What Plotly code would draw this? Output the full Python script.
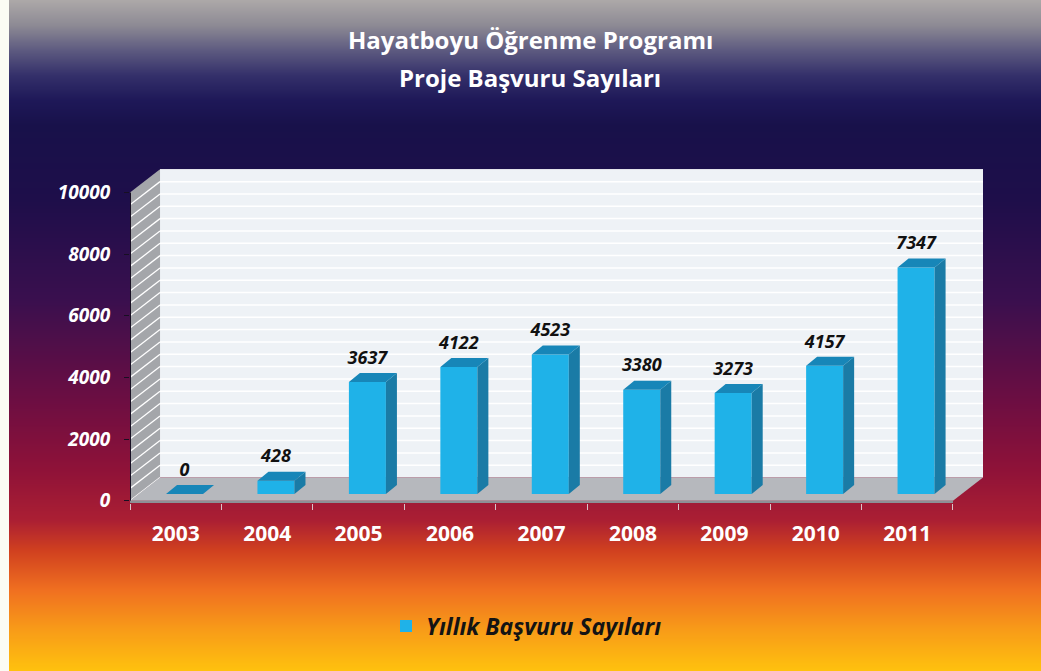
import plotly.graph_objects as go
import numpy as np

years = ["2003", "2004", "2005", "2006", "2007", "2008", "2009", "2010", "2011"]
values = [0, 428, 3637, 4122, 4523, 3380, 3273, 4157, 7347]
y_ticks = [0, 2000, 4000, 6000, 8000, 10000]
y_tick_text = ["0", "2000", "4000", "6000", "8000", "10000"]
series_name = "Yıllık Başvuru Sayıları"
title_lines = ["Hayatboyu Öğrenme Programı", "Proje Başvuru Sayıları"]

W, H = 1041, 671
FONT = "Open Sans"
X0, X1 = 130.0, 983.0      # plot area, px
Y_TOP, Y_BOT = 169.3, 503.0
PX_X = 91.4                # px per category
PX_Y = 0.0308              # px per value unit
WALL_DX = 30 / PX_X
WALL_DY = 750
BAR_OFF = 8.8 / PX_X
BAR_W = 37 / PX_X
BAR_BASE = 217
BAR_DX = 11 / PX_X
BAR_DY = 9 / PX_Y
LABEL_UP = 740
FLOOR_EDGE = -(2.3 / PX_Y)

grad_y = [0, 25, 50, 75, 100, 125, 200, 300, 400, 470, 520, 550, 590, 630, 671]
grad_c = ["#aca8a8", "#8d8a94", "#5d5a80", "#34306a", "#1e1858", "#18114a", "#1e0e4a",
          "#3a0f4e", "#6c0e42", "#8f1238", "#ab1f33", "#d0401f", "#f07020", "#f89c18", "#ffc20e"]
colorscale = [[s / H, c] for s, c in zip(grad_y, grad_c)]
rows = np.arange(0, H + 1)

n = len(years)
xl, xr = -0.5, n - 0.5
xc = [i + BAR_OFF for i in range(n)]

fig = go.Figure()
fig.add_trace(go.Heatmap(z=[[r, r] for r in rows], x=[0, 1], y=rows, colorscale=colorscale,
                         zmin=0, zmax=H, showscale=False, hoverinfo="skip", xaxis="x", yaxis="y"))

fig.add_trace(go.Bar(x=xc, y=values, base=BAR_BASE, width=BAR_W, name=series_name,
                     marker=dict(color="#1fb2e8", line=dict(width=0)), xaxis="x2", yaxis="y2",
                     showlegend=True))

side_x, side_y, top_x, top_y = [], [], [], []
for c, v in zip(xc, values):
    r, l, lo, hi = c + BAR_W / 2, c - BAR_W / 2, BAR_BASE, BAR_BASE + v
    side_x += [r, r + BAR_DX, r + BAR_DX, r, r, None]
    side_y += [lo, lo + BAR_DY, hi + BAR_DY, hi, lo, None]
    top_x += [l, r, r + BAR_DX, l + BAR_DX, l, None]
    top_y += [hi, hi, hi + BAR_DY, hi + BAR_DY, hi, None]

fig.add_trace(go.Scatter(x=side_x, y=side_y, mode="lines", fill="toself", fillcolor="#1a7ba6",
                         line=dict(width=0, color="#1a7ba6"), hoverinfo="skip", showlegend=False,
                         xaxis="x2", yaxis="y2"))
fig.add_trace(go.Scatter(x=top_x, y=top_y, mode="lines", fill="toself", fillcolor="#1786b8",
                         line=dict(width=0, color="#1786b8"), hoverinfo="skip", showlegend=False,
                         xaxis="x2", yaxis="y2"))
fig.add_trace(go.Scatter(x=xc, y=[v + BAR_BASE + LABEL_UP for v in values], mode="text",
                         text=[str(v) for v in values], textposition="middle center",
                         textfont=dict(family=FONT, size=18, color="#111111", weight=700, style="italic"),
                         hoverinfo="skip", showlegend=False, xaxis="x2", yaxis="y2"))


def poly(pts, fill):
    d = "M" + " L".join(f"{x},{y}" for x, y in pts) + " Z"
    return dict(type="path", path=d, xref="x2", yref="y2", layer="below",
                fillcolor=fill, line=dict(width=0))


def seg(x0, y0, x1, y1, color, width):
    return dict(type="line", x0=x0, y0=y0, x1=x1, y1=y1, xref="x2", yref="y2", layer="below",
                line=dict(color=color, width=width))


shapes = []
top = y_ticks[-1]
shapes.append(poly([(xl + WALL_DX, WALL_DY), (xr + WALL_DX, WALL_DY),
                    (xr + WALL_DX, top + WALL_DY), (xl + WALL_DX, top + WALL_DY)], "#eef2f6"))
shapes.append(poly([(xl, 0), (xl + WALL_DX, WALL_DY), (xl + WALL_DX, top + WALL_DY), (xl, top)], "#a4a6aa"))
for k in range(0, 26):
    v = 400 * k
    if k > 0:
        shapes.append(seg(xl + WALL_DX, v + WALL_DY, xr + WALL_DX, v + WALL_DY, "#ffffff", 1.5))
    if k < 25:
        shapes.append(seg(xl, v, xl + WALL_DX, v + WALL_DY, "#ffffff", 1.3))
shapes.append(poly([(xl, 0), (xr, 0), (xr + WALL_DX, WALL_DY), (xl + WALL_DX, WALL_DY)], "#b6b8bd"))
shapes.append(poly([(xl, FLOOR_EDGE), (xr, FLOOR_EDGE), (xr, 0), (xl, 0)], "#8e8f95"))
shapes.append(seg(xl, 0, xl, top, "#170f22", 2))

annotations = [
    dict(text=title_lines[0], x=530 / W, y=1 - 40 / H, xref="paper", yref="paper", showarrow=False,
         font=dict(family=FONT, size=24, color="#ffffff", weight=700), xanchor="center", yanchor="middle"),
    dict(text=title_lines[1], x=530 / W, y=1 - 78 / H, xref="paper", yref="paper", showarrow=False,
         font=dict(family=FONT, size=24, color="#ffffff", weight=700), xanchor="center", yanchor="middle"),
]

fig.update_layout(
    width=W, height=H, margin=dict(l=0, r=0, t=0, b=0, pad=0, autoexpand=False),
    paper_bgcolor="#fbfcf4", plot_bgcolor="rgba(0,0,0,0)", barmode="overlay",
    shapes=shapes, annotations=annotations,
    xaxis=dict(domain=[9 / W, 1], range=[0, 1], visible=False, fixedrange=True),
    yaxis=dict(domain=[0, 1], range=[H, 0], visible=False, fixedrange=True),
    xaxis2=dict(domain=[X0 / W, X1 / W], range=[xl, xr + WALL_DX], anchor="y2",
                tickmode="array", tickvals=list(range(n)), ticktext=years, ticks="",
                ticklabelstandoff=16, showgrid=False, zeroline=False, showline=False,
                tickfont=dict(family=FONT, size=21, color="#ffffff", weight=700),
                minor=dict(tickmode="array", tickvals=[i - 0.5 for i in range(n + 1)], ticks="outside",
                           ticklen=6, tickwidth=1, tickcolor="#d9c4c8", showgrid=False)),
    yaxis2=dict(domain=[1 - Y_BOT / H, 1 - Y_TOP / H], range=[FLOOR_EDGE, top + WALL_DY], anchor="x2",
                tickmode="array", tickvals=y_ticks, ticktext=y_tick_text, ticks="outside", ticklen=5,
                tickcolor="#170f22", ticklabelstandoff=10, showgrid=False, zeroline=False, showline=False,
                tickfont=dict(family=FONT, size=19, color="#ffffff", weight=700, style="italic")),
    legend=dict(x=386 / W, y=1 - 626 / H, xanchor="left", yanchor="middle", bgcolor="rgba(0,0,0,0)",
                font=dict(family=FONT, size=23, color="#141414", weight=700, style="italic"),
                itemwidth=30),
    showlegend=True,
)

fig.write_html("out.html", config=dict(displayModeBar=False),
               post_script="document.body.style.margin='0';document.body.style.overflow='hidden';")
